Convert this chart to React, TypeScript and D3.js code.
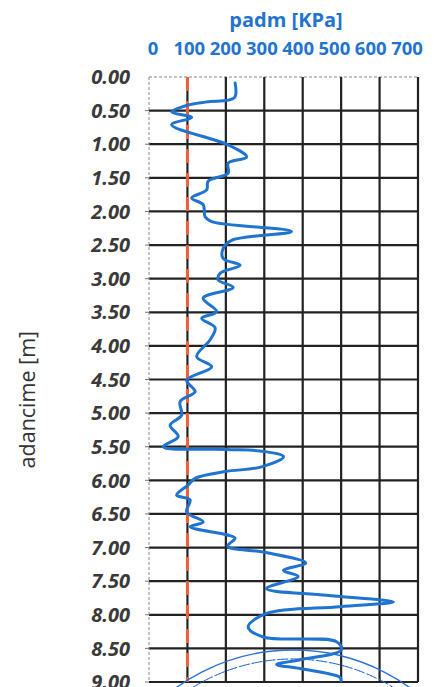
import React from "react";
import * as d3 from "d3";

const depths = [0.09, 0.31, 0.37, 0.42, 0.52, 0.60, 0.71, 1.01, 1.19, 1.28, 1.43, 1.55, 1.68, 1.80, 1.90, 2.08, 2.15, 2.30, 2.43, 2.55, 2.70, 2.80, 2.92, 3.02, 3.13, 3.29, 3.49, 3.59, 3.73, 3.91, 4.16, 4.31, 4.51, 4.68, 4.83, 5.03, 5.18, 5.35, 5.50, 5.54, 5.57, 5.65, 5.80, 5.87, 5.97, 6.07, 6.22, 6.29, 6.47, 6.62, 6.69, 6.81, 6.86, 6.98, 7.07, 7.23, 7.34, 7.43, 7.61, 7.71, 7.81, 7.88, 7.98, 8.18, 8.33, 8.40, 8.52, 8.67, 8.74, 8.80, 8.93, 8.98];
const padm = [224, 222, 150, 100, 59, 111, 59, 206, 254, 206, 206, 154, 150, 111, 141, 146, 163, 371, 215, 193, 193, 237, 185, 180, 219, 141, 176, 137, 172, 159, 124, 163, 98, 120, 81, 85, 55, 76, 37, 200, 300, 350, 293, 198, 120, 102, 72, 107, 98, 141, 107, 202, 224, 205, 300, 408, 350, 388, 306, 462, 636, 497, 306, 258, 297, 488, 501, 393, 332, 393, 497, 500];

const depthTicks = d3.range(0, 9.001, 0.5);
const padmTicks = [0, 100, 200, 300, 400, 500, 600, 700];
const limitValue = 100;
const xTitle = "padm [KPa]";
const yTitle = "adancime [m]";

const W = 444;
const H = 687;
const FONT = "'Open Sans', 'Liberation Sans', sans-serif";
const BLUE = "#1f74cf";

export default function App() {
  const x = d3.scaleLinear().domain([0, 700]).range([149, 418]);
  const xLabel = d3.scaleLinear().domain([0, 700]).range([153, 407]);
  const y = d3.scaleLinear().domain([0, 9]).range([77, 682]);

  const pts = depths.map((d, i) => [padm[i], d] as [number, number]);
  const line = d3
    .line<[number, number]>()
    .x((p) => x(p[0]))
    .y((p) => y(p[1]))
    .curve(d3.curveCatmullRom.alpha(0.5));

  const arc = d3.arc();
  const stamp1 = arc({ innerRadius: 200, outerRadius: 200, startAngle: -0.9, endAngle: 0.9 } as any) || "";
  const stamp2 = arc({ innerRadius: 191, outerRadius: 191, startAngle: -0.9, endAngle: 0.9 } as any) || "";

  return (
    <svg width={W} height={H} style={{ position: "absolute", left: 0, top: 0, background: "#fff" }}>
      <rect width={W} height={H} fill="#fff" />
      {/* top axis */}
      <text x={286} y={27} textAnchor="middle" fontFamily={FONT} fontWeight={700} fontSize={20} fill={BLUE}>
        {xTitle}
      </text>
      {padmTicks.map((t) => (
        <text key={t} x={xLabel(t)} y={55} textAnchor="middle" fontFamily={FONT} fontWeight={700} fontSize={18.5} fill={BLUE}>
          {t}
        </text>
      ))}
      {/* y labels */}
      {depthTicks.map((t) => (
        <text key={t} x={130} y={y(t)} dy="0.36em" textAnchor="end" fontFamily={FONT} fontWeight={700} fontStyle="italic" fontSize={20} fill="#3a3a3a">
          {t.toFixed(2)}
        </text>
      ))}
      <text
        transform={`translate(27,${y(4.8)}) rotate(-90)`}
        textAnchor="middle"
        dy="0.35em"
        fontFamily={FONT}
        fontSize={21.5}
        fill="#333"
      >
        {yTitle}
      </text>
      {/* grid */}
      {depthTicks.map((t) =>
        t === 0 ? (
          <line key={"h" + t} x1={x(0)} x2={x(700)} y1={y(t)} y2={y(t)} stroke="#888" strokeWidth={1} strokeDasharray="3 2" />
        ) : (
          <g key={"h" + t}>
            <line x1={x(0) - 4} x2={x(0)} y1={y(t)} y2={y(t)} stroke="#777" strokeWidth={1} />
            <line x1={x(0)} x2={x(700)} y1={y(t)} y2={y(t)} stroke="#222" strokeWidth={2.2} />
          </g>
        )
      )}
      {padmTicks.map((t) =>
        t === 0 ? (
          <line key={"v" + t} x1={x(t)} x2={x(t)} y1={y(0)} y2={y(9)} stroke="#888" strokeWidth={1} strokeDasharray="3 2" />
        ) : (
          <line key={"v" + t} x1={x(t)} x2={x(t)} y1={y(0)} y2={y(9)} stroke="#222" strokeWidth={2.2} />
        )
      )}
      {/* limit line */}
      <line x1={x(limitValue)} x2={x(limitValue)} y1={y(0)} y2={y(9)} stroke="#f0603a" strokeWidth={3} strokeDasharray="14 10" />
      {/* data */}
      <path d={line(pts) || ""} fill="none" stroke={BLUE} strokeWidth={3} strokeLinejoin="round" strokeLinecap="round" />
      {/* stamp remnants */}
      <g transform="translate(293,850)" fill="none" stroke="#2a6fd6">
        <path d={stamp1} strokeWidth={1.4} />
        <path d={stamp2} strokeWidth={1} strokeDasharray="6 3 1 3" />
      </g>
    </svg>
  );
}
